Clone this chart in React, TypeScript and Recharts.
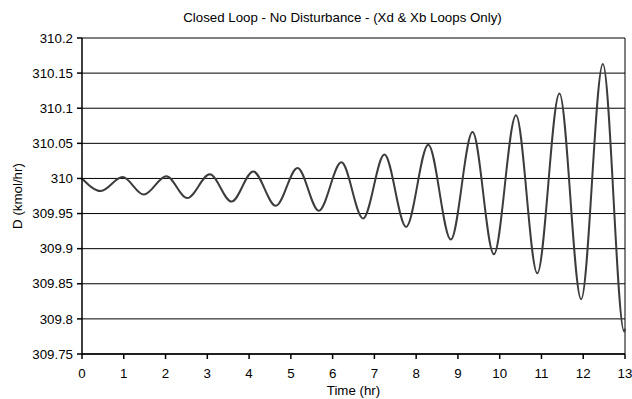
import { LineChart, Line, XAxis, YAxis, CartesianGrid, ReferenceLine } from "recharts";

// time (hr) of each turning point
const times = [0, 0.45, 0.97, 1.48, 2.02, 2.52, 3.06, 3.58, 4.1, 4.64, 5.16, 5.67, 6.21, 6.73, 7.24, 7.76, 8.29, 8.83, 9.35, 9.86, 10.39, 10.9, 11.43, 11.95, 12.47, 12.98, 13];
// D (kmol/hr) at those times
const distillate = [310.0, 309.982, 310.002, 309.977, 310.003, 309.972, 310.006, 309.967, 310.01, 309.961, 310.015, 309.954, 310.023, 309.943, 310.034, 309.931, 310.048, 309.913, 310.066, 309.892, 310.09, 309.865, 310.121, 309.828, 310.163, 309.782, 309.786];

const xTicks = [0, 1, 2, 3, 4, 5, 6, 7, 8, 9, 10, 11, 12, 13];
const yTicks = [309.75, 309.8, 309.85, 309.9, 309.95, 310, 310.05, 310.1, 310.15, 310.2];

const data = times.map((t, i) => ({ t, d: distillate[i] }));

const font = "'Liberation Sans', Arial, sans-serif";
const tickStyle = { fontSize: 13.3, fill: "#000", fontFamily: font };

export default function App() {
  return (
    <div style={{ position: "absolute", left: 0, top: 0, width: 632, height: 399, background: "#fff" }}>
      <div
        style={{
          position: "absolute",
          top: 10,
          left: 71,
          width: 543,
          textAlign: "center",
          fontFamily: font,
          fontSize: 13.3,
          lineHeight: "16px",
          color: "#000",
        }}
      >
        Closed Loop - No Disturbance - (Xd &amp; Xb Loops Only)
      </div>
      <LineChart width={632} height={399} data={data} margin={{ top: 38, right: 7, left: 0, bottom: 0 }}>
        <CartesianGrid vertical={false} stroke="#000" strokeWidth={1} />
        <XAxis
          type="number"
          dataKey="t"
          domain={[0, 13]}
          ticks={xTicks}
          interval={0}
          height={45}
          tick={tickStyle}
          tickSize={5}
          tickMargin={10}
          stroke="#000"
          strokeWidth={1.5}
          label={{ value: "Time (hr)", position: "insideBottom", offset: 4, style: tickStyle }}
        />
        <YAxis
          type="number"
          domain={[309.75, 310.2]}
          ticks={yTicks}
          interval={0}
          width={82}
          tick={tickStyle}
          tickSize={5}
          tickMargin={4}
          stroke="#000"
          strokeWidth={1.5}
          tickFormatter={(v) => String(v)}
          label={{ value: "D (kmol/hr)", angle: -90, position: "insideLeft", offset: 17, style: { ...tickStyle, textAnchor: "middle" } }}
        />
        <ReferenceLine x={13} stroke="#000" strokeWidth={1} />
        <Line
          type="monotone"
          dataKey="d"
          stroke="#3c3c3c"
          strokeWidth={2}
          dot={false}
          isAnimationActive={false}
        />
      </LineChart>
    </div>
  );
}
